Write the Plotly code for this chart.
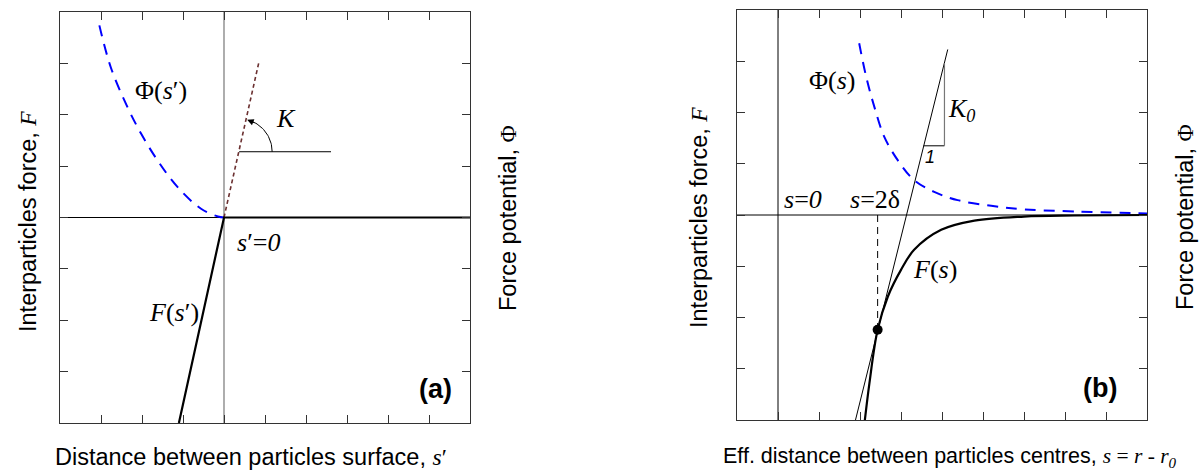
import numpy as np
import plotly.graph_objects as go

# ---------------- data ----------------
# Panel (a): surface distance s'
phi_a_x = [-3.04, -2.76, -2.35, -2.02, -1.62, -1.13, -0.56, -0.15, 0.0]
phi_a_y = [3.74, 2.92, 2.14, 1.63, 1.11, 0.59, 0.17, 0.02, 0.0]
force_a_x = [-1.10, 0.0, 6.0]
force_a_y = [-4.0, 0.0, 0.0]
stiff_a_x = [0.0, 0.85]
stiff_a_y = [0.0, 3.02]

# Panel (b): effective centre distance s
phi_b_x = [1.98, 2.15, 2.35, 2.59, 2.92, 3.32, 3.81, 4.38, 5.20, 6.01, 7.23, 9.0]
phi_b_y = [3.35, 2.70, 2.11, 1.53, 1.07, 0.68, 0.45, 0.29, 0.18, 0.11, 0.07, 0.03]
force_b_x = [2.10, 2.23, 2.43, 2.68, 3.00, 3.32, 3.98, 4.79, 6.00, 7.23, 9.0]
force_b_y = [-4.13, -3.28, -2.24, -1.59, -1.07, -0.68, -0.29, -0.11, -0.03, -0.01, 0.0]
tangent_b_x = [1.89, 4.14]
tangent_b_y = [-4.0, 3.23]
contact_x = [2.43]
contact_y = [-2.24]
tri_x = [3.55, 4.06, 4.06]
tri_y = [1.35, 1.35, 2.96]

xa_ticks = [-3, -2, -1, 0, 1, 2, 3, 4, 5]
xb_ticks = [0, 1, 2, 3, 4, 5, 6, 7, 8]
y_ticks = [-3, -2, -1, 0, 1, 2, 3]

# ---------------- figure ----------------
W, H = 1200, 476
SERIF = "Liberation Serif"
SANS = "Liberation Sans"
FRAME = "#333333"

fig = go.Figure()

def line(x, y, ax, color="black", width=1.0, dash="solid", shape="linear"):
    fig.add_trace(go.Scatter(x=x, y=y, mode="lines", xaxis=ax[0], yaxis=ax[1],
                             line=dict(color=color, width=width, dash=dash, shape=shape),
                             hoverinfo="skip", showlegend=False))

A = ("x", "y")
B = ("x2", "y2")

# panel (a) axes lines
line([-4, 0], [0, 0], A, width=1.0)
line([0, 0], [-4, 4], A, color="#777777", width=1.2)
line(phi_a_x, phi_a_y, A, color="#0000ff", width=2, dash="11px,8px", shape="spline")
line(stiff_a_x, stiff_a_y, A, color="#6b3030", width=1.6, dash="4px,3px")
line(force_a_x, force_a_y, A, width=2.2)
# K angle marker
line([0.37, 2.61], [1.28, 1.28], A, width=1.0)
R = 33.0
th = np.linspace(0, np.radians(72), 30)
line(list(0.37 + R * np.cos(th) / 41.0), list(1.28 + R * np.sin(th) / 51.4), A, width=1.0)

# panel (b)
line([-1, 9], [0, 0], B, width=1.0)
line([0, 0], [-4, 4], B, width=1.0)
line(phi_b_x, phi_b_y, B, color="#0000ff", width=2, dash="11px,8px", shape="spline")
line(tangent_b_x, tangent_b_y, B, width=1.0)
line([contact_x[0], contact_x[0]], [0, contact_y[0]], B, width=1.0, dash="7px,5px")
line(force_b_x, force_b_y, B, width=2.2, shape="spline")
line(tri_x[:2], tri_y[:2], B, width=1.0)
line(tri_x[1:], tri_y[1:], B, color="#777777", width=1.2)
fig.add_trace(go.Scatter(x=contact_x, y=contact_y, mode="markers", xaxis="x2", yaxis="y2",
                         marker=dict(color="black", size=10), hoverinfo="skip", showlegend=False))

def axis(dom, rng, ticks):
    return dict(domain=dom, range=rng, tickvals=ticks, showticklabels=False,
                ticks="inside", ticklen=8, tickwidth=1, tickcolor=FRAME,
                showline=True, linecolor=FRAME, linewidth=1, mirror="ticks",
                showgrid=False, zeroline=False, fixedrange=True)

fig.update_layout(
    width=W, height=H, margin=dict(l=0, r=0, t=0, b=0),
    paper_bgcolor="white", plot_bgcolor="white",
    xaxis=axis([60 / W, 470 / W], [-4, 6], xa_ticks),
    yaxis=axis([1 - 423 / H, 1 - 12 / H], [-4, 4], y_ticks),
    xaxis2=axis([737 / W, 1147 / W], [-1, 9], xb_ticks),
    yaxis2=axis([1 - 420 / H, 1 - 10 / H], [-4, 4], y_ticks),
)
fig.layout.xaxis2.anchor = "y2"
fig.layout.yaxis2.anchor = "x2"

def label(x, y, text, ax, size=26, family=SERIF, color="black"):
    fig.add_annotation(x=x, y=y, xref=ax[0], yref=ax[1], text=text, showarrow=False,
                       font=dict(family=family, size=size, color=color),
                       xanchor="center", yanchor="middle")

# arrowhead of K arc
th1, th0 = np.radians(76), np.radians(60)
fig.add_annotation(x=0.37 + R * np.cos(th1) / 41.0, y=1.28 + R * np.sin(th1) / 51.4,
                   xref="x", yref="y", ax=R * (np.cos(th0) - np.cos(th1)),
                   ay=R * (np.sin(th1) - np.sin(th0)), axref="pixel", ayref="pixel",
                   text="", showarrow=True, arrowhead=2, arrowsize=1.3, arrowwidth=1,
                   arrowcolor="black")

label(-1.54, 2.47, "Φ(<i>s</i>′)", A)
label(1.51, 1.93, "<i>K</i>", A)
label(0.83, -0.49, "<i>s</i>′=<i>0</i>", A)
label(-1.21, -1.84, "<i>F</i>(<i>s</i>′)", A)
label(5.17, -3.33, "<b>(a)</b>", A, size=27, family=SANS)

label(1.31, 2.63, "Φ(<i>s</i>)", B)
label(4.48, 2.05, "<i>K<sub>0</sub></i>", B)
label(3.71, 1.14, "<i>1</i>", B, size=18, family=SANS)
label(0.61, 0.31, "<i>s</i>=<i>0</i>", B)
label(2.37, 0.31, "<i>s</i>=2δ", B)
label(3.83, -1.07, "<i>F</i>(<i>s</i>)", B)
label(7.85, -3.38, "<b>(b)</b>", B, size=27, family=SANS)

def ptext(x, y, text, angle=0, size=23.5):
    fig.add_annotation(x=x / W, y=1 - y / H, xref="paper", yref="paper", text=text,
                       showarrow=False, textangle=angle,
                       font=dict(family=SANS, size=size, color="black"),
                       xanchor="center", yanchor="middle")

ser = "<span style=\"font-family:Liberation Serif\">"
ptext(28, 222, "Interparticles force, " + ser + "<i>F</i></span>", -90)
ptext(508, 218, "Force potential, " + ser + "Φ</span>", -90)
ptext(699, 218, "Interparticles force, " + ser + "<i>F</i></span>", -90)
ptext(1185, 217, "Force potential, " + ser + "Φ</span>", -90)
ptext(251, 457, "Distance between particles surface, " + ser + "<i>s</i>′</span>")
ptext(950, 457, "Eff. distance between particles centres, " + ser + "<i>s</i> = <i>r</i> - <i>r<sub>0</sub></i></span>",
      size=21.5)

fig.write_html("out.html", config={"displayModeBar": False},
               post_script="document.body.style.margin='0';document.body.style.overflow='hidden';")
